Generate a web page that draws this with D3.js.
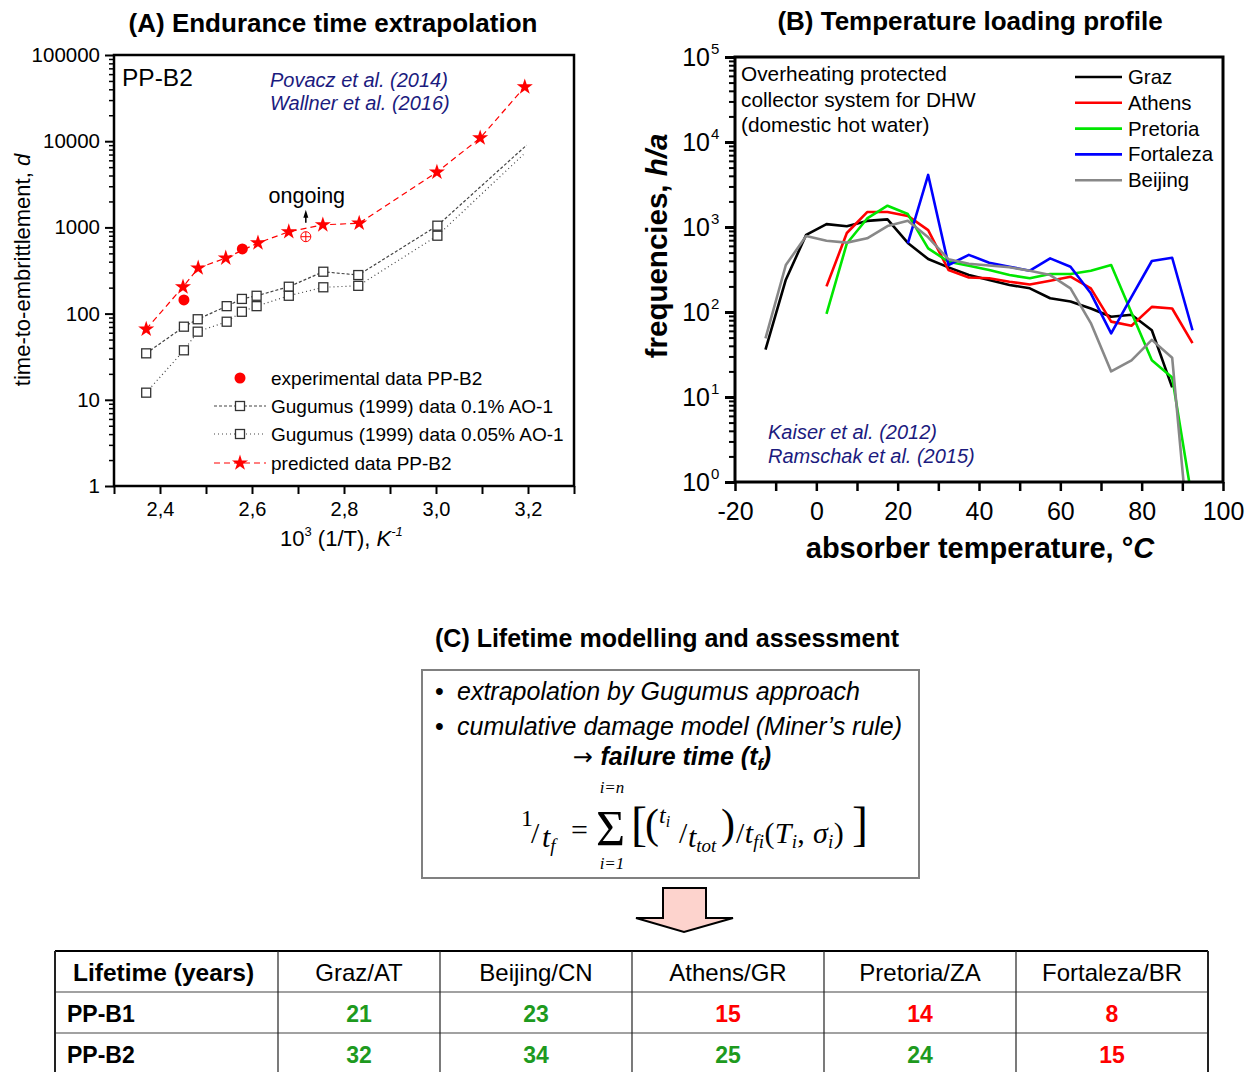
<!DOCTYPE html>
<html>
<head>
<meta charset="utf-8">
<title>Endurance time, temperature profile and lifetime</title>
<script src="https://d3js.org/d3.v7.min.js"></script>
<style>
  body { margin: 0; background: #fff; }
  text { font-family: "Liberation Sans", Arial, sans-serif; fill: #000; }
</style>
</head>
<body>
<div id="chart"></div>
<script>
// ---------- (A) endurance time extrapolation: 10^3/T vs time-to-embrittlement (d)
const predX = [2.37, 2.45, 2.483, 2.543, 2.613, 2.68, 2.754, 2.833, 3.002, 3.096, 3.193];
const predY = [66, 204, 338, 441, 660, 890, 1070, 1120, 4370, 10900, 42600];
const expX = [2.452, 2.579];
const expY = [144, 562];
const ongoingX = 2.717, ongoingY = 780;
const gugX = [2.37, 2.452, 2.482, 2.545, 2.578, 2.61, 2.68, 2.755, 2.831, 3.003];
const gug01 = [34.6, 70.5, 86, 122, 148, 161, 205, 306, 280, 1047];
const gug005 = [12.1, 37.5, 61.7, 80.5, 105, 122, 161, 202, 210, 801];
// extrapolated ends of the Gugumus curves (drawn without marker)
const gug01End = [3.197, 9000];
const gug005End = [3.19, 7000];
const xTicksA = [2.4, 2.6, 2.8, 3.0, 3.2];
const yTicksA = [1, 10, 100, 1000, 10000, 100000];

// ---------- (B) temperature loading profile: hours per year in 5 K bins
const binT = [-12.5, -7.5, -2.5, 2.5, 7.5, 12.5, 17.5, 22.5, 27.5, 32.5, 37.5,
              42.5, 47.5, 52.5, 57.5, 62.5, 67.5, 72.5, 77.5, 82.5, 87.5, 92.5];
const graz = [36, 240, 810, 1080, 1020, 1180, 1230, 650, 420, 335, 272,
              238, 208, 190, 145, 133, 110, 88, 93, 61, 13, null];
const athens = [null, null, null, 200, 850, 1500, 1500, 1350, 920, 312, 255,
                249, 227, 211, 233, 260, 190, 77, 69, 115, 110, 43];
const pretoria = [null, null, null, 95, 640, 1260, 1780, 1420, 560, 390, 350,
                  312, 272, 249, 280, 280, 306, 357, 98, 27, 17, 0.58];
const fortaleza = [null, null, null, null, null, null, null, 640, 4100, 357, 470,
                   380, 341, 306, 427, 341, 166, 56, 151, 398, 435, 61];
const beijing = [49, 357, 784, 690, 655, 736, 1025, 1186, 756, 417, 370,
                 352, 336, 305, 272, 190, 74, 20, 27, 47, 29, 0.07];
const cityNames = ["Graz", "Athens", "Pretoria", "Fortaleza", "Beijing"];
const cityColors = ["#000000", "#ff0000", "#00e600", "#0000ff", "#888888"];
const xTicksB = [-20, 0, 20, 40, 60, 80, 100];

// ---------- (C) lifetime table
const tableCities = ["Graz/AT", "Beijing/CN", "Athens/GR", "Pretoria/ZA", "Fortaleza/BR"];
const lifeB1 = [21, 23, 15, 14, 8];
const lifeB2 = [32, 34, 25, 24, 15];

const W = 1254, H = 1072;
const navy = "#1b1b7e";
const svg = d3.select("#chart").append("svg").attr("width", W).attr("height", H);
svg.append("rect").attr("width", W).attr("height", H).attr("fill", "#fff");

// ================= Panel A =================
const xA = d3.scaleLinear().domain([2.3, 3.3]).range([114, 574]);
const yA = d3.scaleLog().domain([1, 1e5]).range([486, 55]);
const gA = svg.append("g");

const yMinorA = yA.ticks().filter(d => Math.abs(Math.log10(d) % 1) > 1e-6);
gA.append("g").attr("transform", "translate(114,0)")
    .call(d3.axisLeft(yA).tickValues(yMinorA).tickSize(5).tickFormat(""))
    .call(a => a.select(".domain").remove())
    .call(a => a.selectAll("line").attr("stroke-width", 1.5));
gA.append("g").attr("transform", "translate(114,0)")
    .call(d3.axisLeft(yA).tickValues(yTicksA).tickSize(9).tickPadding(5).tickFormat(d3.format("d")))
    .call(a => a.select(".domain").remove())
    .call(a => a.selectAll("line").attr("stroke-width", 2))
    .call(a => a.selectAll("text").attr("font-size", 20.5).attr("font-family", "Liberation Sans, Arial"));

gA.append("g").attr("transform", "translate(0,486)")
    .call(d3.axisBottom(xA).tickValues(d3.range(2.3, 3.31, 0.1)).tickSize(8).tickFormat(""))
    .call(a => a.select(".domain").remove())
    .call(a => a.selectAll("line").attr("stroke-width", 2));
gA.append("g").attr("transform", "translate(0,486)")
    .call(d3.axisBottom(xA).tickValues(xTicksA).tickSize(0).tickPadding(16)
        .tickFormat(d => d3.format(".1f")(d).replace(".", ",")))
    .call(a => a.select(".domain").remove())
    .call(a => a.selectAll("text").attr("font-size", 20).attr("font-family", "Liberation Sans, Arial"));

gA.append("rect").attr("x", 114).attr("y", 55).attr("width", 460).attr("height", 431)
    .attr("fill", "none").attr("stroke", "#000").attr("stroke-width", 2.5);

const lineA = d3.line().x(d => xA(d[0])).y(d => yA(d[1]));
const g01Pts = gugX.map((x, i) => [x, gug01[i]]).concat([gug01End]);
const g005Pts = gugX.map((x, i) => [x, gug005[i]]).concat([gug005End]);
const predPts = predX.map((x, i) => [x, predY[i]]);

gA.append("path").attr("d", lineA(g01Pts)).attr("fill", "none")
    .attr("stroke", "#444").attr("stroke-width", 1.2).attr("stroke-dasharray", "3,2");
gA.append("path").attr("d", lineA(g005Pts)).attr("fill", "none")
    .attr("stroke", "#444").attr("stroke-width", 1.2).attr("stroke-dasharray", "1,3");
gA.append("path").attr("d", lineA(predPts)).attr("fill", "none")
    .attr("stroke", "#ff0000").attr("stroke-width", 1.2).attr("stroke-dasharray", "6,4");

function squares(xs, ys) {
    gA.selectAll(null).data(xs.map((x, i) => [x, ys[i]])).enter().append("rect")
        .attr("x", d => xA(d[0]) - 4.5).attr("y", d => yA(d[1]) - 4.5)
        .attr("width", 9).attr("height", 9)
        .attr("fill", "#fff").attr("stroke", "#333").attr("stroke-width", 1.3);
}
squares(gugX, gug01);
squares(gugX, gug005);

const star = d3.symbol().type(d3.symbolStar).size(80);
gA.selectAll(null).data(predPts).enter().append("path")
    .attr("d", star).attr("fill", "#ff0000")
    .attr("transform", d => `translate(${xA(d[0])},${yA(d[1])})`);
gA.selectAll(null).data(expX.map((x, i) => [x, expY[i]])).enter().append("circle")
    .attr("cx", d => xA(d[0])).attr("cy", d => yA(d[1])).attr("r", 5.5).attr("fill", "#ff0000");

// ongoing test point
const ox = xA(ongoingX), oy = yA(ongoingY);
gA.append("circle").attr("cx", ox).attr("cy", oy).attr("r", 5).attr("fill", "none")
    .attr("stroke", "#ff0000").attr("stroke-width", 1);
gA.append("path").attr("d", `M${ox - 5},${oy}H${ox + 5}M${ox},${oy - 5}V${oy + 5}`)
    .attr("stroke", "#ff0000").attr("stroke-width", 1);
gA.append("path").attr("d", `M${ox},${oy - 14}V${oy - 22}`).attr("stroke", "#000").attr("stroke-width", 1.5);
gA.append("path").attr("d", `M${ox - 2.5},${oy - 19}L${ox},${oy - 27}L${ox + 2.5},${oy - 19}Z`).attr("fill", "#000");
gA.append("text").attr("x", ox + 1).attr("y", oy - 34).attr("text-anchor", "middle")
    .attr("font-size", 21.5).text("ongoing");

gA.append("text").attr("x", 122).attr("y", 86).attr("font-size", 24.5).text("PP-B2");
gA.append("text").attr("x", 270).attr("y", 87).attr("font-size", 20).attr("font-style", "italic")
    .style("fill", navy).text("Povacz et al. (2014)");
gA.append("text").attr("x", 270).attr("y", 110).attr("font-size", 20).attr("font-style", "italic")
    .style("fill", navy).text("Wallner et al. (2016)");

// legend A
const legA = [
    { y: 378, label: "experimental data PP-B2", kind: "dot" },
    { y: 406, label: "Gugumus (1999) data 0.1% AO-1", kind: "sq", dash: "3,2" },
    { y: 434, label: "Gugumus (1999) data 0.05% AO-1", kind: "sq", dash: "1,3" },
    { y: 463, label: "predicted data PP-B2", kind: "star", dash: "6,4" }
];
legA.forEach(l => {
    if (l.kind === "dot") {
        gA.append("circle").attr("cx", 240).attr("cy", l.y).attr("r", 5.5).attr("fill", "#ff0000");
    } else {
        gA.append("line").attr("x1", 214).attr("x2", 266).attr("y1", l.y).attr("y2", l.y)
            .attr("stroke", l.kind === "star" ? "#ff0000" : "#444").attr("stroke-width", 1.2)
            .attr("stroke-dasharray", l.dash);
        if (l.kind === "sq") {
            gA.append("rect").attr("x", 235.5).attr("y", l.y - 4.5).attr("width", 9).attr("height", 9)
                .attr("fill", "#fff").attr("stroke", "#333").attr("stroke-width", 1.3);
        } else {
            gA.append("path").attr("d", star).attr("fill", "#ff0000")
                .attr("transform", `translate(240,${l.y})`);
        }
    }
    gA.append("text").attr("x", 271).attr("y", l.y + 7).attr("font-size", 19).text(l.label);
});

svg.append("text").attr("x", 333).attr("y", 32).attr("text-anchor", "middle")
    .attr("font-size", 26).attr("font-weight", "bold").text("(A) Endurance time extrapolation");
const ylabA = svg.append("text").attr("transform", "translate(30,270) rotate(-90)")
    .attr("text-anchor", "middle").attr("font-size", 22);
ylabA.append("tspan").text("time-to-embrittlement, ");
ylabA.append("tspan").attr("font-style", "italic").text("d");
const xlabA = svg.append("text").attr("x", 280).attr("y", 546).attr("font-size", 22);
xlabA.append("tspan").text("10");
xlabA.append("tspan").attr("font-size", 13).attr("dy", -10).text("3");
xlabA.append("tspan").attr("dy", 10).text(" (1/T), ");
xlabA.append("tspan").attr("font-style", "italic").text("K");
xlabA.append("tspan").attr("font-size", 13).attr("dy", -10).attr("font-style", "italic").text("-1");

// ================= Panel B =================
const xB = d3.scaleLinear().domain([-20, 100]).range([735, 1223]);
const yB = d3.scaleLog().domain([1, 1e5]).range([482, 57]);
const gB = svg.append("g");

svg.append("clipPath").attr("id", "clipB").append("rect")
    .attr("x", 735).attr("y", 57).attr("width", 488).attr("height", 425);

const yMinorB = yB.ticks().filter(d => Math.abs(Math.log10(d) % 1) > 1e-6);
gB.append("g").attr("transform", "translate(735,0)")
    .call(d3.axisLeft(yB).tickValues(yMinorB).tickSize(6).tickFormat(""))
    .call(a => a.select(".domain").remove())
    .call(a => a.selectAll("line").attr("stroke-width", 2));
gB.append("g").attr("transform", "translate(735,0)")
    .call(d3.axisLeft(yB).tickValues(yTicksA).tickSize(10).tickFormat(""))
    .call(a => a.select(".domain").remove())
    .call(a => a.selectAll("line").attr("stroke-width", 3));
yTicksA.forEach(v => {
    gB.append("text").attr("x", 710).attr("y", yB(v) + 9)
        .attr("text-anchor", "end").attr("font-size", 25).text("10");
    gB.append("text").attr("x", 711).attr("y", yB(v) - 3).attr("font-size", 15)
        .text(Math.round(Math.log10(v)));
});
gB.append("g").attr("transform", "translate(0,482)")
    .call(d3.axisBottom(xB).tickValues(d3.range(-20, 101, 10)).tickSize(9).tickFormat(""))
    .call(a => a.select(".domain").remove())
    .call(a => a.selectAll("line").attr("stroke-width", 2.5));
gB.append("g").attr("transform", "translate(0,482)")
    .call(d3.axisBottom(xB).tickValues(xTicksB).tickSize(0).tickPadding(20).tickFormat(d => String(d)))
    .call(a => a.select(".domain").remove())
    .call(a => a.selectAll("text").attr("font-size", 25).attr("font-family", "Liberation Sans, Arial"));

const seriesB = [graz, athens, pretoria, fortaleza, beijing];
const lineB = d3.line().defined(d => d[1] != null)
    .x(d => xB(d[0])).y(d => yB(d[1]));
const plotB = gB.append("g").attr("clip-path", "url(#clipB)");
seriesB.forEach((s, k) => {
    plotB.append("path").attr("d", lineB(binT.map((t, i) => [t, s[i]])))
        .attr("fill", "none").attr("stroke", cityColors[k]).attr("stroke-width", 2.6)
        .attr("stroke-linejoin", "round");
});

gB.append("rect").attr("x", 735).attr("y", 57).attr("width", 488).attr("height", 425)
    .attr("fill", "none").attr("stroke", "#000").attr("stroke-width", 3);

["Overheating protected", "collector system for DHW", "(domestic hot water)"].forEach((s, i) => {
    gB.append("text").attr("x", 741).attr("y", 81 + i * 25.5).attr("font-size", 20.8).text(s);
});
cityNames.forEach((c, i) => {
    const y = 77 + i * 25.8;
    gB.append("line").attr("x1", 1075).attr("x2", 1122).attr("y1", y).attr("y2", y)
        .attr("stroke", cityColors[i]).attr("stroke-width", 2.6);
    gB.append("text").attr("x", 1128).attr("y", y + 7).attr("font-size", 20.4).text(c);
});
gB.append("text").attr("x", 768).attr("y", 439).attr("font-size", 20).attr("font-style", "italic")
    .style("fill", navy).text("Kaiser et al. (2012)");
gB.append("text").attr("x", 768).attr("y", 463).attr("font-size", 20).attr("font-style", "italic")
    .style("fill", navy).text("Ramschak et al. (2015)");

svg.append("text").attr("x", 970).attr("y", 30).attr("text-anchor", "middle")
    .attr("font-size", 26).attr("font-weight", "bold").text("(B) Temperature loading profile");
const ylabB = svg.append("text").attr("transform", "translate(667,246) rotate(-90)")
    .attr("text-anchor", "middle").attr("font-size", 29.5).attr("font-weight", "bold");
ylabB.append("tspan").text("frequencies, ");
ylabB.append("tspan").attr("font-style", "italic").text("h/a");
const xlabB = svg.append("text").attr("x", 980).attr("y", 558).attr("text-anchor", "middle")
    .attr("font-size", 29).attr("font-weight", "bold");
xlabB.append("tspan").text("absorber temperature, °");
xlabB.append("tspan").attr("font-style", "italic").text("C");

// ================= Panel C =================
svg.append("text").attr("x", 667).attr("y", 647).attr("text-anchor", "middle")
    .attr("font-size", 25).attr("font-weight", "bold").text("(C) Lifetime modelling and assessment");
svg.append("rect").attr("x", 422).attr("y", 670).attr("width", 497).attr("height", 208)
    .attr("fill", "#fff").attr("stroke", "#808080").attr("stroke-width", 2);
["extrapolation by Gugumus approach", "cumulative damage model (Miner’s rule)"].forEach((s, i) => {
    svg.append("text").attr("x", 435).attr("y", 700 + i * 35).attr("font-size", 25).text("•");
    svg.append("text").attr("x", 457).attr("y", 700 + i * 35).attr("font-size", 25)
        .attr("font-style", "italic").text(s);
});
const ft = svg.append("text").attr("x", 672).attr("y", 765).attr("text-anchor", "middle")
    .attr("font-size", 25).attr("font-weight", "bold").attr("font-style", "italic");
ft.append("tspan").style("font-family", "DejaVu Sans").attr("font-style", "normal")
    .attr("font-weight", "normal").attr("font-size", 24).text("→ ");
ft.append("tspan").text("failure time (t");
ft.append("tspan").attr("font-size", 16).attr("dy", 5).text("f");
ft.append("tspan").attr("dy", -5).text(")");

// formula 1/t_f = sum[(t_i/t_tot)/t_fi(T_i, sigma_i)]
const serif = "Liberation Serif, DejaVu Serif, serif";
function ftext(x, y, size, parts) {
    const t = svg.append("text").attr("x", x).attr("y", y).attr("font-size", size)
        .style("font-family", serif);
    parts.forEach(p => {
        const s = t.append("tspan").text(p[0]);
        if (p[1]) s.attr("font-style", "italic");
        if (p[2]) s.attr("font-size", p[2]);
        if (p[3]) s.attr("dy", p[3]);
    });
    return t;
}
ftext(521, 826, 24, [["1"]]);
ftext(531, 843, 30, [["/"]]);
ftext(542, 847, 30, [["t", true], ["f", true, 19, 5]]);
ftext(571, 840, 30, [["="]]);
ftext(596, 845, 50, [["Σ"]]);
ftext(612, 793, 17, [["i=n", true]]).attr("text-anchor", "middle");
ftext(612, 869, 17, [["i=1", true]]).attr("text-anchor", "middle");
ftext(631, 840, 48, [["["]]);
ftext(645, 838, 42, [["("]]);
ftext(659, 823, 24, [["t", true], ["i", true, 16, 4]]);
ftext(679, 843, 30, [["/"]]);
ftext(688, 847, 30, [["t", true], ["tot", true, 19, 5]]);
ftext(721, 838, 42, [[")"]]);
ftext(736, 843, 30, [["/"], ["t", true], ["fi", true, 19, 5], ["(", false, 30, -5], ["T", true],
    ["i", true, 19, 5], [", ", false, 30, -5], ["σ", true], ["i", true, 19, 5], [")", false, 30, -5]])
    .attr("letter-spacing", 0.3);
ftext(852, 840, 48, [["]"]]);

// block arrow
svg.append("path").attr("d", "M663,888H706V918H733L684,932L636,918H663Z")
    .attr("fill", "#fdd3cd").attr("stroke", "#000").attr("stroke-width", 2);

// table
const colEdges = [55, 278, 440, 632, 824, 1016, 1208];
const rowEdges = [951, 992, 1033, 1075];
const tb = svg.append("g");
const green = "#1e9a1e", red = "#ff0000";
const headers = ["Lifetime (years)"].concat(tableCities);
headers.forEach((h, i) => {
    const t = tb.append("text").attr("y", 981).attr("font-size", 24);
    if (i === 0) t.attr("x", 73).attr("font-weight", "bold").attr("font-size", 24.5).text(h);
    else t.attr("x", (colEdges[i] + colEdges[i + 1]) / 2).attr("text-anchor", "middle").text(h);
});
[["PP-B1", lifeB1], ["PP-B2", lifeB2]].forEach((r, j) => {
    const y = rowEdges[j + 1] + 30;
    tb.append("text").attr("x", 67).attr("y", y).attr("font-size", 23).attr("font-weight", "bold").text(r[0]);
    r[1].forEach((v, i) => {
        tb.append("text").attr("x", (colEdges[i + 1] + colEdges[i + 2]) / 2).attr("y", y)
            .attr("text-anchor", "middle").attr("font-size", 23).attr("font-weight", "bold")
            .style("fill", v >= 20 ? green : red).text(v);
    });
});
rowEdges.forEach((y, i) => {
    tb.append("line").attr("x1", 55).attr("x2", 1208).attr("y1", y).attr("y2", y)
        .attr("stroke", i === 0 ? "#000" : "#444").attr("stroke-width", i === 0 ? 2 : 1.2);
});
colEdges.forEach((x, i) => {
    tb.append("line").attr("x1", x).attr("x2", x).attr("y1", rowEdges[0]).attr("y2", 1075)
        .attr("stroke", "#222").attr("stroke-width", (i === 0 || i === colEdges.length - 1) ? 2 : 1.2);
});
</script>
</body>
</html>
